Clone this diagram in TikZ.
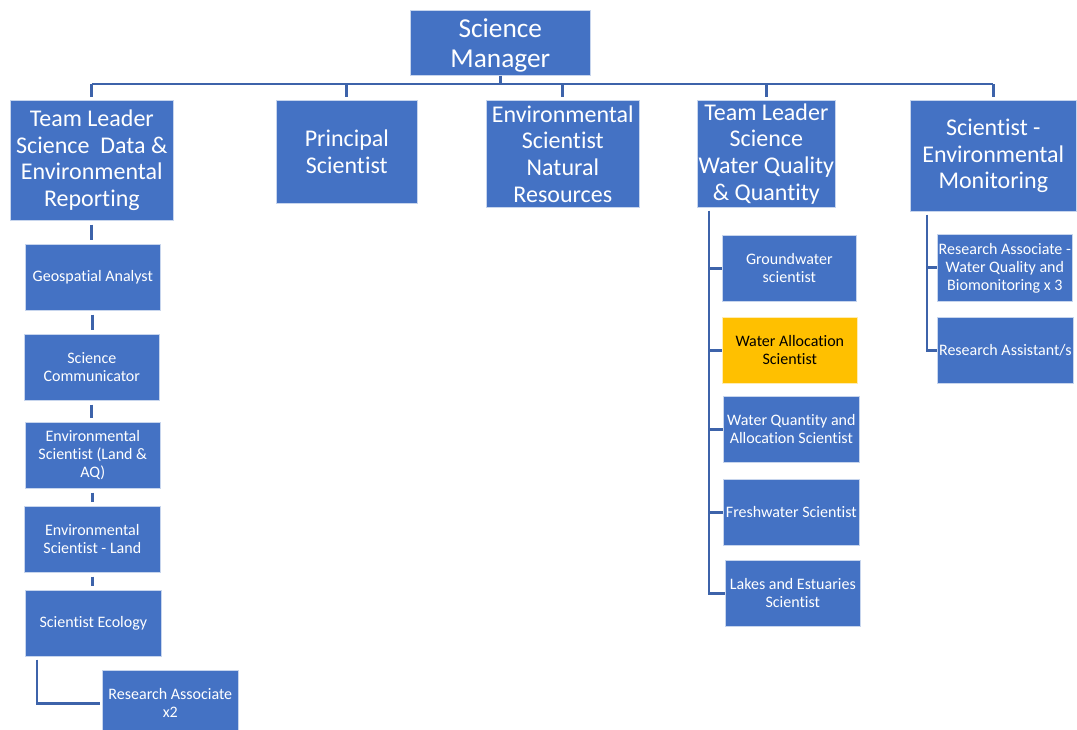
\documentclass[tikz,border=0pt]{standalone}
\usepackage{fontspec}
\setmainfont[Ligatures=NoCommon]{Carlito}
\definecolor{boxblue}{HTML}{4472C4}
\definecolor{connblue}{RGB}{61,99,170}
\definecolor{boxyellow}{HTML}{FFC000}
\tikzset{
  box/.style={fill=boxblue, draw=white!70!boxblue, line width=0.5pt, text=white,
    align=center, inner sep=0pt, anchor=north west},
  sz/.style 2 args={minimum width=#1*0.75pt, minimum height=#2*0.75pt},
  big/.style={font=\fontsize{20.5}{22.5}\selectfont},
  mid/.style={font=\fontsize{18}{20}\selectfont},
  sml/.style={font=\fontsize{12}{13.5}\selectfont},
  conn/.style={draw=connblue, line width=2.1pt},
}
\begin{document}
\begin{tikzpicture}[x=0.75pt,y=-0.75pt]
\useasboundingbox (0,0) rectangle (1077,729);
\clip (0,0) rectangle (1077,729);
\fill[white] (0,0) rectangle (1077,729);
% level 0
\node[box,big,sz={180}{65}] (sm) at (410,10) {\raisebox{-2.5pt}[\height][\depth]{\begin{tabular}{@{}c@{}}Science\\Manager\end{tabular}}};
% level 1
\node[box,mid,sz={163}{120}] (tl1) at (10,100) {Team Leader\\Science\ \ Data \&\\Environmental\\Reporting};
\node[box,mid,sz={141}{103}] (ps) at (276,100) {Principal\\Scientist};
\node[box,mid,sz={153}{107}] (esnr) at (486,100) {Environmental\\Scientist\\Natural\\Resources};
\node[box,mid,sz={138}{107}] (tl2) at (697,100) {Team Leader\\Science\\Water Quality\\\& Quantity};
\node[box,mid,sz={166}{111}] (sem) at (910,100) {Scientist -\\Environmental\\Monitoring};
% left column
\node[box,sml,sz={135}{66}] (geo) at (25,244) {Geospatial Analyst};
\node[box,sml,sz={135}{66}] (comm) at (24,334) {Science\\Communicator};
\node[box,sml,sz={135}{66}] (esaq) at (25,422) {Environmental\\Scientist (Land \&\\AQ)};
\node[box,sml,sz={136}{66}] (esl) at (24,506) {Environmental\\Scientist - Land};
\node[box,sml,sz={136}{66}] (eco) at (25,590) {Scientist Ecology};
\node[box,sml,sz={136}{66}] (ra2) at (102,670) {Research Associate\\x2};
% water column
\node[box,sml,sz={134}{66}] (gw) at (722,235) {Groundwater\\scientist};
\node[box,sml,sz={135}{66},fill=boxyellow,draw=white!70!boxyellow,text=black] (wa) at (722,317) {Water Allocation\\Scientist};
\node[box,sml,sz={136}{66}] (wqa) at (723,396) {Water Quantity and\\Allocation Scientist};
\node[box,sml,sz={136}{66}] (fw) at (723,479) {Freshwater Scientist};
\node[box,sml,sz={135}{66}] (lakes) at (725,560) {Lakes and Estuaries\\Scientist};
% monitoring column
\node[box,sml,sz={135}{67}] (raw) at (937,234) {Research Associate -\\Water Quality and\\Biomonitoring x 3};
\node[box,sml,sz={136}{66}] (ras) at (937,317) {Research Assistant/s};
% top connectors
\draw[conn] (sm.south) -- (sm.south |- 0,84);
\draw[conn] (tl1.north |- 0,84) -- (sem.north |- 0,84);
\foreach \n in {tl1,ps,esnr,tl2,sem}{
  \draw[conn, shorten >=2.25pt] (\n.north |- 0,84) -- (\n.north);
}
% left column connectors
\draw[conn, shorten <=3pt, shorten >=3pt] (tl1.south) -- (tl1.south |- geo.north);
\draw[conn, shorten <=3pt, shorten >=3pt] (geo.south) -- (geo.south |- comm.north);
\draw[conn, shorten <=3pt, shorten >=3pt] (comm.south) -- (comm.south |- esaq.north);
\draw[conn, shorten <=3pt, shorten >=3pt] (esaq.south) -- (esaq.south |- esl.north);
\draw[conn, shorten <=3pt, shorten >=3pt] (esl.south) -- (esl.south |- eco.north);
\draw[conn, shorten >=1.5pt] ([xshift=9pt,yshift=-2.25pt]eco.south west) |- (ra2.west);
% water column connectors
\coordinate (v2) at ([xshift=9pt]tl2.south west);
\draw[conn] ([yshift=-2.25pt]v2) |- (lakes.west);
\foreach \n in {gw,wa,wqa,fw}{
  \draw[conn] (v2 |- \n.west) -- (\n.west);
}
% monitoring column connectors
\coordinate (v3) at ([xshift=12.75pt]sem.south west);
\draw[conn] ([yshift=-2.25pt]v3) |- (ras.west);
\draw[conn] (v3 |- raw.west) -- (raw.west);
\end{tikzpicture}
\end{document}
